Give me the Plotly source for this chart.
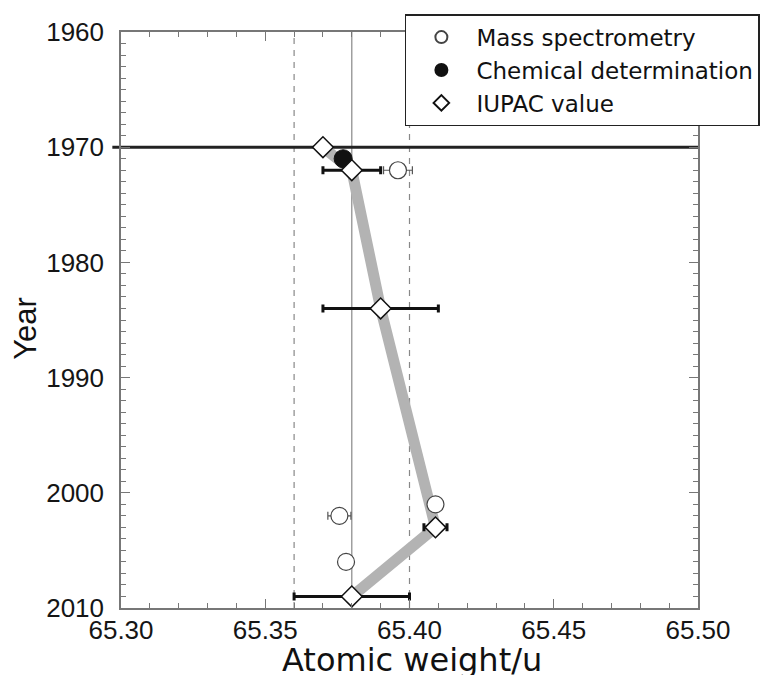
import plotly.graph_objects as go

# ---- data ----
ms_year = [1972, 2001, 2002, 2006]
ms_value = [65.396, 65.409, 65.3757, 65.378]
ms_err = [0.005, 0.002, 0.004, 0.0]

chem_year = [1971]
chem_value = [65.377]

iupac_year = [1970, 1972, 1984, 2003, 2009]
iupac_value = [65.37, 65.38, 65.39, 65.409, 65.38]
iupac_err = [0.0, 0.01, 0.02, 0.004, 0.02]

x_ticks = [65.30, 65.35, 65.40, 65.45, 65.50]
y_ticks = [1960, 1970, 1980, 1990, 2000, 2010]
ref_solid = 65.38
ref_dashed = [65.36, 65.40]
line_year = 1970

fig = go.Figure()

# gray trend line through IUPAC values
fig.add_trace(go.Scatter(
    x=iupac_value, y=iupac_year, mode="lines",
    line=dict(color="#b3b3b3", width=11), showlegend=False, hoverinfo="skip"))

fig.add_trace(go.Scatter(
    x=ms_value, y=ms_year, mode="markers", name="Mass spectrometry",
    marker=dict(symbol="circle", size=17, color="white", line=dict(color="#444", width=1.2)),
    error_x=dict(type="data", array=ms_err, color="#555", thickness=1.2, width=4)))

fig.add_trace(go.Scatter(
    x=chem_value, y=chem_year, mode="markers", name="Chemical determination",
    marker=dict(symbol="circle", size=18, color="#111", line=dict(color="#111", width=1))))

fig.add_trace(go.Scatter(
    x=iupac_value, y=iupac_year, mode="markers", name="IUPAC value",
    marker=dict(symbol="diamond", size=16, color="white", line=dict(color="#111", width=1.5)),
    error_x=dict(type="data", array=iupac_err, color="#111", thickness=3, width=4)))

# reference lines
fig.add_shape(type="line", xref="x", yref="paper", x0=ref_solid, x1=ref_solid, y0=0, y1=1,
              line=dict(color="#888", width=1.2), layer="below")
for xv in ref_dashed:
    fig.add_shape(type="line", xref="x", yref="paper", x0=xv, x1=xv, y0=0, y1=1,
                  line=dict(color="#888", width=1.2, dash="6px,6px"), layer="below")
fig.add_shape(type="line", xref="paper", yref="y", x0=-0.015, x1=1, y0=line_year, y1=line_year,
              line=dict(color="#222", width=3), layer="below")

axis_common = dict(
    showgrid=False, zeroline=False, showline=True, linecolor="#777", linewidth=1.5,
    mirror="ticks", ticks="inside", ticklen=9, tickwidth=1.3, tickcolor="#777",
    automargin=False,
)

fig.update_xaxes(
    range=[65.30, 65.50], tickvals=x_ticks, ticktext=[f"{v:.2f}" for v in x_ticks],
    minor=dict(dtick=0.01, ticks="inside", ticklen=5, tickcolor="#777", tickwidth=1.2),
    tickfont=dict(family="Liberation Sans", size=26, color="#151515"),
    ticklabelstandoff=-2,
    **axis_common)
fig.update_yaxes(
    range=[2010, 1960], tickvals=y_ticks,
    minor=dict(dtick=1, ticks="inside", ticklen=5, tickcolor="#777", tickwidth=1.2),
    tickfont=dict(family="Liberation Sans", size=26, color="#151515"),
    ticklabelstandoff=10,
    **axis_common)

fig.add_annotation(text="Atomic weight/u", xref="paper", yref="paper", x=0.504, y=-0.09,
                   xanchor="center", yanchor="middle", showarrow=False,
                   font=dict(family="DejaVu Sans", size=32, color="#111"))
fig.add_annotation(text="Year", xref="paper", yref="paper", x=-0.166, y=0.485,
                   xanchor="center", yanchor="middle", textangle=-90, showarrow=False,
                   font=dict(family="Liberation Sans", size=31, color="#111"))

fig.update_layout(
    width=760, height=667,
    margin=dict(l=113, r=70, t=24, b=67, autoexpand=False),
    paper_bgcolor="white", plot_bgcolor="white",
    legend=dict(x=0.492, y=1.031, xanchor="left", yanchor="top",
                bgcolor="white", bordercolor="#222", borderwidth=1.5,
                font=dict(family="DejaVu Sans", size=23, color="#111"),
                itemwidth=60, itemsizing="constant", tracegroupgap=0),
    showlegend=True,
)

fig.write_html("out.html")
